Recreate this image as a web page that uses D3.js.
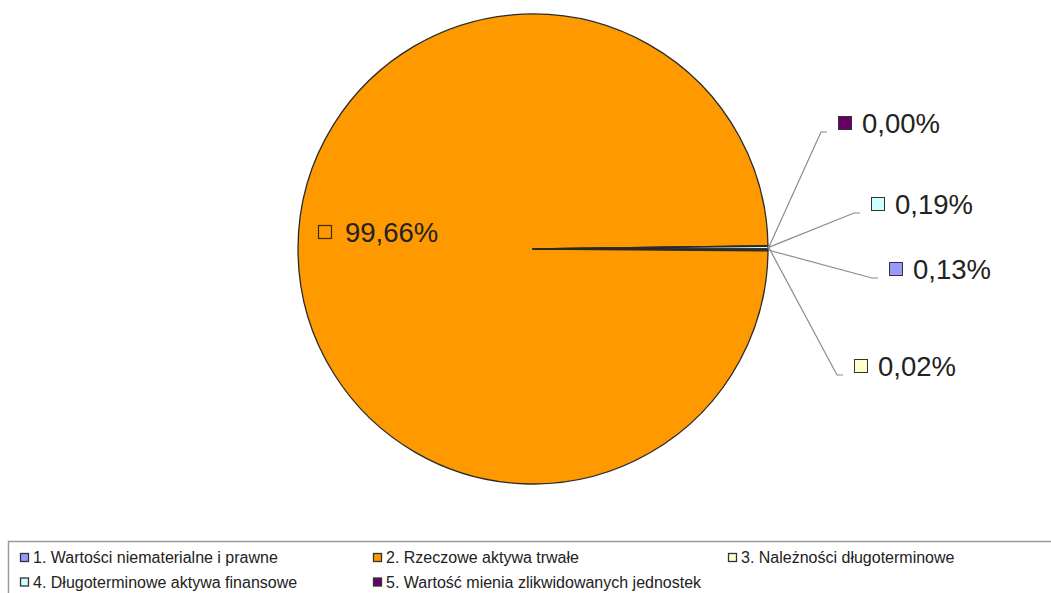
<!DOCTYPE html>
<html><head><meta charset="utf-8">
<script src="https://cdn.jsdelivr.net/npm/d3@7"></script>
<style>body{margin:0;background:#fff}svg{display:block}text{font-family:"Liberation Sans",Arial,sans-serif}</style>
</head><body>
<svg id="c" width="1051" height="593"></svg>
<script>
const categories = ["1. Wartości niematerialne i prawne","2. Rzeczowe aktywa trwałe","3. Należności długoterminowe","4. Długoterminowe aktywa finansowe","5. Wartość mienia zlikwidowanych jednostek"];
const values = [0.13, 99.66, 0.02, 0.19, 0.00];
const valueLabels = ["0,13%","99,66%","0,02%","0,19%","0,00%"];
const colors = ["#9999FF","#FF9900","#FFFFCC","#CCFFFF","#660066"];
// label layout: end of leader line relative to pie centre
const labelEnds = [[345,29],[-208,-17],[310,126],[327,-36],[294,-117]];

const svg = d3.select("#c");
const cx = 533, cy = 249, R = 235;
const g = svg.append("g").attr("transform",`translate(${cx},${cy})`);
const pie = d3.pie().sort(null).value(d=>d).startAngle(Math.PI/2).endAngle(Math.PI/2+2*Math.PI);
const arcs = pie(values);
const arc = d3.arc().innerRadius(0).outerRadius(R);
g.selectAll("path.s").data(arcs).enter().append("path")
  .attr("d",arc).attr("fill",(d,i)=>colors[i]).attr("stroke","#2a2a2a").attr("stroke-width",1.3).attr("stroke-linejoin","round");

arcs.forEach((d,i)=>{
  const [ex,ey] = labelEnds[i];
  const mid = (d.startAngle+d.endAngle)/2;
  if(i!==1){
    const sx = Math.sin(mid)*R, sy = -Math.cos(mid)*R;
    g.append("path").attr("d",`M${sx},${sy}L${ex-6},${ey}L${ex},${ey}`)
      .attr("fill","none").attr("stroke","#8a8a8a").attr("stroke-width",1.2);
    const mx = ex+18, my = ey-9;
    g.append("rect").attr("x",mx-6.5).attr("y",my-6.5).attr("width",13).attr("height",13)
      .attr("fill",colors[i]).attr("stroke","#333").attr("stroke-width",1);
    g.append("text").attr("x",mx+17).attr("y",my).attr("dy","0.36em")
      .attr("font-size",27.5).attr("fill","#222").text(valueLabels[i]);
  } else {
    const mx = ex, my = ey;
    g.append("rect").attr("x",mx-6.5).attr("y",my-6.5).attr("width",13).attr("height",13)
      .attr("fill",colors[i]).attr("stroke","#3a2a10").attr("stroke-width",1.2);
    g.append("text").attr("x",mx+20).attr("y",my).attr("dy","0.36em")
      .attr("font-size",27.5).attr("fill","#222").text(valueLabels[i]);
  }
});

// legend
svg.append("rect").attr("x",8.5).attr("y",541.5).attr("width",1100).attr("height",80)
  .attr("fill","none").attr("stroke","#9a9a9a").attr("stroke-width",1.5);
const colX = [24.5,377.5,732.5], rowY = [557.5,582];
categories.forEach((c,i)=>{
  const x = colX[i%3], y = rowY[Math.floor(i/3)];
  svg.append("rect").attr("x",x-4).attr("y",y-4).attr("width",8).attr("height",8)
    .attr("fill",colors[i]).attr("stroke","#333").attr("stroke-width",1.3);
  svg.append("text").attr("x",x+8.5).attr("y",y).attr("dy","0.36em").attr("font-size",16)
    .attr("fill","#222").text(c);
});
</script>
</body></html>
